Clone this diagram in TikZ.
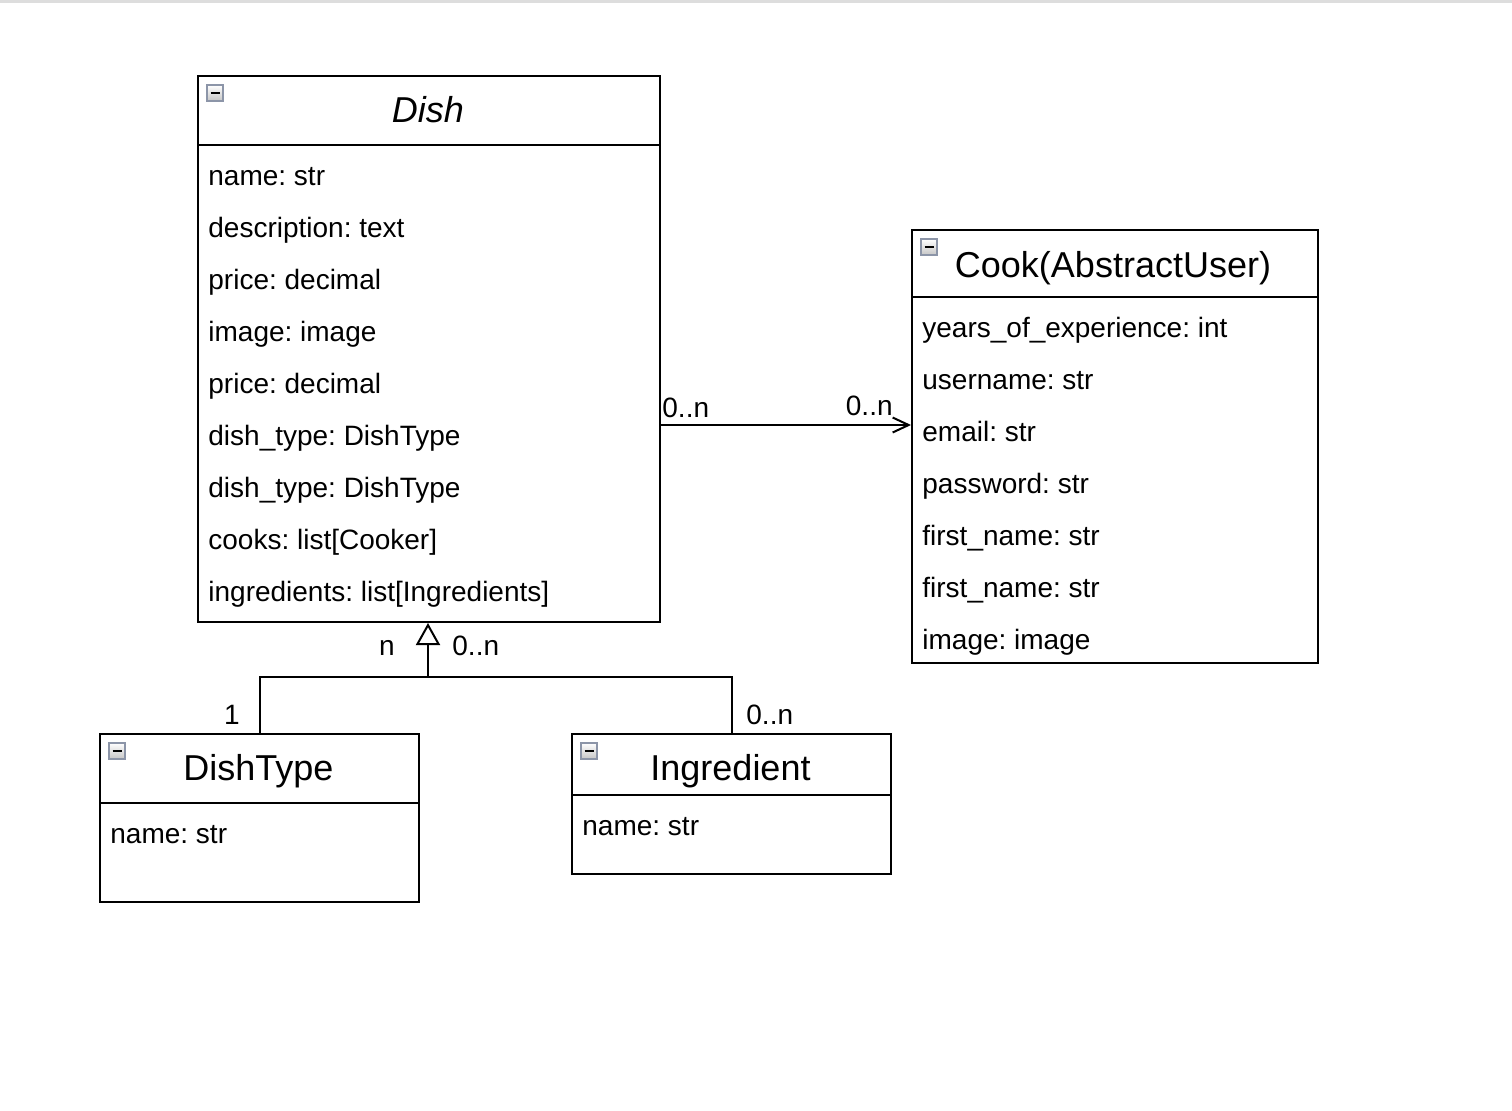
\documentclass[tikz,border=0pt]{standalone}
\usepackage{fontspec}
\setmainfont{Liberation Sans}
\usetikzlibrary{arrows.meta}
\frenchspacing

\definecolor{iconframe}{HTML}{8C95A8}
\definecolor{topbar}{HTML}{DDDDDD}

\begin{document}
\begin{tikzpicture}[x=0.5pt,y=-0.5pt,
  classbox/.style={draw,line width=1pt,anchor=north west,inner sep=0pt},
  title/.style={anchor=base,inner sep=0pt,font=\fontsize{18}{20}\selectfont},
  attr/.style={anchor=base west,inner sep=0pt,font=\fontsize{14}{16}\selectfont},
  mult/.style={inner sep=0pt,font=\fontsize{14}{16}\selectfont},
  link/.style={line width=1pt},
  collapse/.pic={
    \shade[top color=white,bottom color=gray!45,draw=iconframe,line width=1pt]
      (0,0) rectangle (16,16);
    \draw[line width=1.3pt] (3.5,8) -- (12.5,8);
  }]

% Parameters
\def\pxu{0.5pt}   % one pixel

% Page
\useasboundingbox (0,0) rectangle (1512,1110);
\fill[topbar] (0,0) rectangle (1512,3);

% Dish
\node[classbox,minimum width=462*\pxu,minimum height=546*\pxu] (dish) at (197,75) {};
\draw[link] ([yshift=-35pt]dish.north west) -- ([yshift=-35pt]dish.north east);
\pic at (207,85) {collapse};
\node[title,font=\fontsize{18}{20}\selectfont\itshape] (dish-title) at (428,122) {Dish};
\foreach \t [count=\i] in {name: str, description: text, price: decimal, image: image,
    price: decimal, dish\_type: DishType, dish\_type: DishType, cooks: list[Cooker],
    ingredients: list[Ingredients]}
  \node[attr] (dish-a\i) at (208,133+52*\i) {\t};

% Cook
\node[classbox,minimum width=406*\pxu,minimum height=433*\pxu] (cook) at (911,229) {};
\draw[link] ([yshift=-34pt]cook.north west) -- ([yshift=-34pt]cook.north east);
\pic at (921,239) {collapse};
\node[title] (cook-title) at (1113,277) {Cook(AbstractUser)};
\foreach \t [count=\i] in {years\_of\_experience: int, username: str, email: str,
    password: str, first\_name: str, first\_name: str, image: image}
  \node[attr] (cook-a\i) at (922,285+52*\i) {\t};

% DishType
\node[classbox,minimum width=319*\pxu,minimum height=168*\pxu] (dishtype) at (99,733) {};
\draw[link] ([yshift=-35pt]dishtype.north west) -- ([yshift=-35pt]dishtype.north east);
\pic at (109,743) {collapse};
\node[title] (dishtype-title) at (258.5,780) {DishType};
\node[attr] (dishtype-a1) at (110,843) {name: str};

% Ingredient
\node[classbox,minimum width=319*\pxu,minimum height=140*\pxu] (ingredient) at (571,733) {};
\draw[link] ([yshift=-31pt]ingredient.north west) -- ([yshift=-31pt]ingredient.north east);
\pic at (581,743) {collapse};
\node[title] (ingredient-title) at (730.5,780) {Ingredient};
\node[attr] (ingredient-a1) at (582,835) {name: str};

% Association Dish -> Cook
\draw[link,-{Straight Barb[length=8pt,width=7.5pt]}]
  (dish.east |- 0,425) -- (cook.west |- 0,425);
\node[mult,anchor=base west] (assoc-src) at (662,417) {0..n};
\node[mult,anchor=base east] (assoc-dst) at (893,415) {0..n};

% Generalization
\coordinate (split) at (428,677);
\draw[link,-{Triangle[open,length=11pt,width=12pt]}] (split) -- (split |- dish.south);
\draw[link] (dishtype.north) |- (split) -| (ingredient.north);
\node[mult,anchor=base east] (gen-n) at (395,655) {n};
\node[mult,anchor=base west] (gen-0n) at (452,655) {0..n};
\node[mult,anchor=base east] (dishtype-mult) at (240,724) {1};
\node[mult,anchor=base west] (ingredient-mult) at (746,724) {0..n};

\end{tikzpicture}
\end{document}
